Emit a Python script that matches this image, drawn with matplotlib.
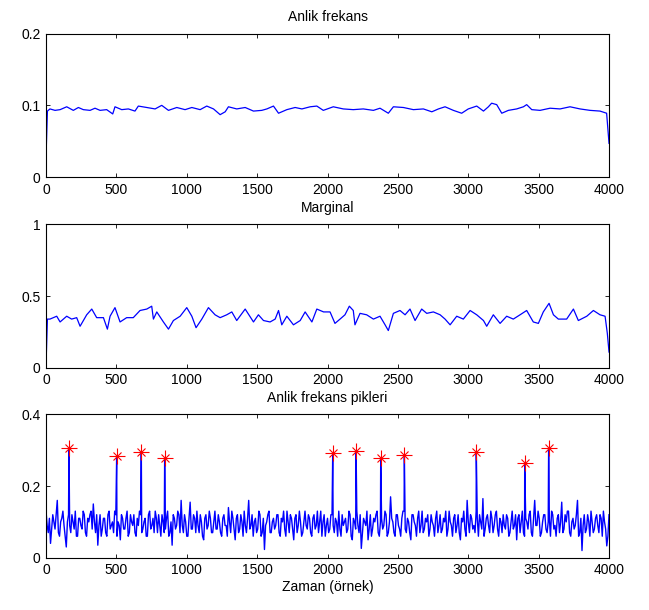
from matplotlib import pyplot as plt
import numpy as np

plt.rcParams["font.family"] = ["Liberation Sans", "DejaVu Sans"]
plt.rcParams["font.size"] = 10

# --- Anlik frekans ---
fa_x = [0, 10, 28, 64, 100, 147, 194, 230, 265, 313, 348, 384, 431, 474, 490, 538, 585,
        632, 656, 716, 775, 822, 870, 929, 988, 1036, 1095, 1142, 1190, 1237, 1273, 1296,
        1355, 1415, 1474, 1533, 1569, 1616, 1652, 1711, 1770, 1818, 1877, 1924, 1970, 2041,
        2112, 2183, 2254, 2326, 2373, 2432, 2468, 2539, 2610, 2681, 2741, 2788, 2835, 2894,
        2953, 3000, 3060, 3108, 3143, 3166, 3202, 3238, 3285, 3344, 3392, 3415, 3451, 3510,
        3581, 3652, 3723, 3794, 3865, 3936, 3983, 4000]
fa_y = [0.028, 0.092, 0.095, 0.093, 0.094, 0.098, 0.093, 0.097, 0.094, 0.093, 0.096, 0.093,
        0.094, 0.088, 0.098, 0.094, 0.095, 0.092, 0.099, 0.097, 0.095, 0.100, 0.093, 0.097,
        0.094, 0.097, 0.094, 0.099, 0.095, 0.087, 0.091, 0.098, 0.095, 0.097, 0.092, 0.093,
        0.095, 0.099, 0.089, 0.094, 0.097, 0.095, 0.098, 0.099, 0.093, 0.098, 0.095, 0.094,
        0.095, 0.093, 0.096, 0.089, 0.098, 0.097, 0.094, 0.095, 0.091, 0.095, 0.098, 0.093,
        0.089, 0.095, 0.099, 0.092, 0.098, 0.103, 0.101, 0.089, 0.093, 0.095, 0.098, 0.101,
        0.094, 0.093, 0.096, 0.095, 0.098, 0.095, 0.093, 0.092, 0.089, 0.047]

# --- Marginal ---
mg_x = [0, 10, 28, 76, 100, 147, 182, 218, 242, 289, 325, 360, 408, 436, 455, 490, 526, 573,
        620, 668, 716, 751, 763, 787, 834, 870, 905, 953, 1000, 1036, 1066, 1107, 1154, 1201,
        1237, 1284, 1320, 1355, 1415, 1474, 1509, 1545, 1592, 1628, 1652, 1675, 1711, 1758,
        1806, 1841, 1889, 1924, 1972, 2018, 2053, 2089, 2124, 2155, 2183, 2195, 2231, 2278,
        2326, 2373, 2409, 2432, 2468, 2515, 2551, 2586, 2622, 2669, 2705, 2752, 2800, 2835,
        2871, 2918, 2965, 3013, 3060, 3108, 3131, 3178, 3226, 3273, 3320, 3368, 3415, 3462,
        3498, 3533, 3574, 3605, 3640, 3699, 3747, 3782, 3842, 3889, 3936, 3972, 3988, 4000]
mg_y = [0.02, 0.34, 0.34, 0.36, 0.32, 0.36, 0.34, 0.35, 0.29, 0.37, 0.41, 0.35, 0.35, 0.27,
        0.36, 0.42, 0.32, 0.35, 0.35, 0.40, 0.41, 0.43, 0.34, 0.39, 0.32, 0.27, 0.33, 0.36,
        0.42, 0.36, 0.28, 0.34, 0.42, 0.37, 0.35, 0.37, 0.39, 0.33, 0.41, 0.32, 0.37, 0.33,
        0.32, 0.34, 0.40, 0.30, 0.36, 0.30, 0.33, 0.39, 0.32, 0.41, 0.39, 0.39, 0.31, 0.34,
        0.37, 0.43, 0.40, 0.30, 0.38, 0.37, 0.34, 0.36, 0.30, 0.26, 0.38, 0.40, 0.37, 0.41,
        0.33, 0.41, 0.38, 0.39, 0.37, 0.34, 0.30, 0.36, 0.34, 0.40, 0.37, 0.33, 0.29, 0.37,
        0.31, 0.36, 0.34, 0.37, 0.40, 0.32, 0.31, 0.39, 0.45, 0.37, 0.34, 0.34, 0.41, 0.33,
        0.36, 0.40, 0.37, 0.36, 0.24, 0.11]

# --- Anlik frekans pikleri: background values, at samples 0,16,32,... and 8,24,40,... ---
step = 16
noise = [0.13, 0.07, 0.04, 0.12, 0.08, 0.16, 0.06, 0.11, 0.09, 0.03, 0.12, 0.07, 0.10, 0.13, 0.06, 0.11, 0.08, 0.12, 0.06, 0.10, 0.13, 0.15, 0.07, 0.035, 0.12,
         0.08, 0.11, 0.06, 0.13, 0.09, 0.07, 0.12, 0.10, 0.05, 0.11, 0.08, 0.13, 0.07, 0.10, 0.12, 0.06, 0.09, 0.12, 0.08, 0.11, 0.06, 0.13, 0.09, 0.07, 0.11,
         0.12, 0.06, 0.10, 0.08, 0.13, 0.07, 0.035, 0.11, 0.09, 0.12, 0.16, 0.07, 0.10, 0.06, 0.155, 0.08, 0.11, 0.13, 0.07, 0.10, 0.05, 0.12, 0.09, 0.11, 0.07,
         0.13, 0.08, 0.10, 0.06, 0.12, 0.09, 0.14, 0.07, 0.11, 0.05, 0.12, 0.08, 0.10, 0.13, 0.07, 0.16, 0.09, 0.06, 0.11, 0.08, 0.12, 0.07, 0.023, 0.10, 0.13,
         0.07, 0.11, 0.09, 0.12, 0.06, 0.10, 0.08, 0.13, 0.07, 0.11, 0.05, 0.12, 0.09, 0.10, 0.07, 0.13, 0.08, 0.11, 0.06, 0.12, 0.09, 0.07, 0.13, 0.10, 0.06,
         0.11, 0.08, 0.12, 0.07, 0.10, 0.13, 0.06, 0.09, 0.11, 0.08, 0.12, 0.05, 0.10, 0.13, 0.07, 0.026, 0.11, 0.09, 0.05, 0.12, 0.08, 0.10, 0.13, 0.06, 0.11,
         0.09, 0.12, 0.07, 0.17, 0.10, 0.06, 0.12, 0.08, 0.11, 0.13, 0.07, 0.10, 0.05, 0.12, 0.09, 0.11, 0.07, 0.13, 0.08, 0.10, 0.06, 0.12, 0.09, 0.11, 0.07,
         0.12, 0.08, 0.10, 0.06, 0.13, 0.09, 0.11, 0.07, 0.12, 0.05, 0.10, 0.08, 0.16, 0.07, 0.11, 0.09, 0.13, 0.06, 0.10, 0.165, 0.08, 0.12, 0.07, 0.11, 0.09,
         0.13, 0.06, 0.10, 0.12, 0.08, 0.11, 0.07, 0.13, 0.09, 0.05, 0.12, 0.10, 0.07, 0.11, 0.08, 0.13, 0.06, 0.16, 0.09, 0.11, 0.07, 0.12, 0.08, 0.10, 0.06,
         0.12, 0.09, 0.11, 0.07, 0.155, 0.08, 0.10, 0.13, 0.06, 0.11, 0.09, 0.16, 0.07, 0.02, 0.12, 0.08, 0.10, 0.13, 0.07, 0.11, 0.09, 0.12, 0.06, 0.10, 0.033,
         0.12]
noise_mid = [0.09, 0.11, 0.08, 0.10, 0.12, 0.07, 0.10, 0.13, 0.06, 0.10, 0.09, 0.12, 0.08, 0.06, 0.11, 0.09, 0.13, 0.07, 0.11, 0.12, 0.08, 0.10, 0.12, 0.09, 0.06,
             0.11, 0.07, 0.12, 0.08, 0.10, 0.13, 0.06, 0.09, 0.12, 0.08, 0.11, 0.06, 0.12, 0.09, 0.07, 0.11, 0.13, 0.07, 0.10, 0.06, 0.12, 0.08, 0.11, 0.13, 0.07,
             0.09, 0.12, 0.07, 0.11, 0.06, 0.10, 0.12, 0.08, 0.13, 0.07, 0.09, 0.12, 0.06, 0.11, 0.08, 0.12, 0.07, 0.09, 0.12, 0.06, 0.11, 0.08, 0.13, 0.07, 0.10,
             0.08, 0.12, 0.07, 0.11, 0.09, 0.06, 0.10, 0.13, 0.08, 0.11, 0.07, 0.12, 0.06, 0.09, 0.11, 0.08, 0.12, 0.10, 0.07, 0.13, 0.06, 0.11, 0.09, 0.12, 0.07,
             0.10, 0.08, 0.12, 0.07, 0.11, 0.13, 0.06, 0.10, 0.12, 0.08, 0.11, 0.07, 0.13, 0.06, 0.10, 0.09, 0.12, 0.07, 0.11, 0.08, 0.13, 0.10, 0.06, 0.12, 0.09,
             0.07, 0.12, 0.09, 0.11, 0.06, 0.08, 0.12, 0.10, 0.07, 0.13, 0.06, 0.11, 0.08, 0.09, 0.12, 0.07, 0.10, 0.13, 0.08, 0.06, 0.11, 0.12, 0.07, 0.10, 0.08,
             0.13, 0.06, 0.10, 0.11, 0.07, 0.12, 0.09, 0.06, 0.13, 0.08, 0.11, 0.07, 0.12, 0.10, 0.06, 0.13, 0.09, 0.07, 0.11, 0.12, 0.08, 0.10, 0.06, 0.13, 0.09,
             0.07, 0.11, 0.13, 0.08, 0.10, 0.06, 0.12, 0.09, 0.07, 0.11, 0.13, 0.06, 0.10, 0.12, 0.08, 0.07, 0.11, 0.12, 0.08, 0.06, 0.11, 0.09, 0.13, 0.07, 0.12,
             0.08, 0.11, 0.07, 0.09, 0.12, 0.06, 0.10, 0.08, 0.12, 0.11, 0.07, 0.13, 0.06, 0.10, 0.12, 0.07, 0.11, 0.09, 0.13, 0.06, 0.10, 0.12, 0.07, 0.11, 0.13,
             0.08, 0.06, 0.12, 0.10, 0.07, 0.12, 0.13, 0.07, 0.10, 0.08, 0.12, 0.06, 0.11, 0.09, 0.07, 0.12, 0.06, 0.10, 0.08, 0.12, 0.07, 0.11, 0.13, 0.08, 0.06]

peak_x = [163, 502, 677, 843, 2037, 2203, 2378, 2546, 3057, 3401, 3571]
peak_y = [0.307, 0.284, 0.296, 0.278, 0.291, 0.298, 0.278, 0.286, 0.295, 0.265, 0.305]

titles = ["Anlik frekans", "Marginal", "Anlik frekans pikleri"]
ylims = [(0, 0.2), (0, 1), (0, 0.4)]
yticks = [[0, 0.1, 0.2], [0, 0.5, 1], [0, 0.2, 0.4]]
ytick_labels = [["0", "0.1", "0.2"], ["0", "0.5", "1"], ["0", "0.2", "0.4"]]
xticks = [0, 500, 1000, 1500, 2000, 2500, 3000, 3500, 4000]

# merge both background lists and the peaks into one signal
nx = list(np.arange(len(noise)) * step)
mx = list(np.arange(len(noise_mid)) * step + step // 2)
px = np.array(nx + mx + peak_x)
py = np.array(noise + noise_mid + peak_y)
order = np.argsort(px, kind="stable")
px, py = px[order], py[order]

fig = plt.figure(figsize=(6.49, 6.10), dpi=100)
left, width, height = 0.0709, 0.8675, 0.235
bottoms = [0.7098, 0.397, 0.0857]
axes = [fig.add_axes([left, b, width, height]) for b in bottoms]

axes[0].plot(fa_x, fa_y, color="#0000ff", lw=0.9)
axes[1].plot(mg_x, mg_y, color="#0000ff", lw=0.9)
axes[2].plot(px, py, color="#0000ff", lw=1.0)
axes[2].plot(peak_x, peak_y, linestyle="None", marker="+", ms=11, mew=0.8, color="red")
axes[2].plot(peak_x, peak_y, linestyle="None", marker="x", ms=6, mew=0.8, color="red")

for k, ax in enumerate(axes):
  ax.set_xlim(0, 4000)
  ax.set_ylim(*ylims[k])
  ax.set_xticks(xticks)
  ax.set_xticklabels([str(t) for t in xticks])
  ax.set_yticks(yticks[k])
  ax.set_yticklabels(ytick_labels[k])
  ax.tick_params(direction="in", length=3, width=0.6, top=True, right=True,
                 labelsize=10, pad=4)
  for s in ax.spines.values():
    s.set_linewidth(0.8)
  ax.set_title(titles[k], fontsize=10, pad=9)

axes[2].set_xlabel("Zaman (örnek)", fontsize=10, labelpad=2)

fig.savefig("out.png", dpi=100)
